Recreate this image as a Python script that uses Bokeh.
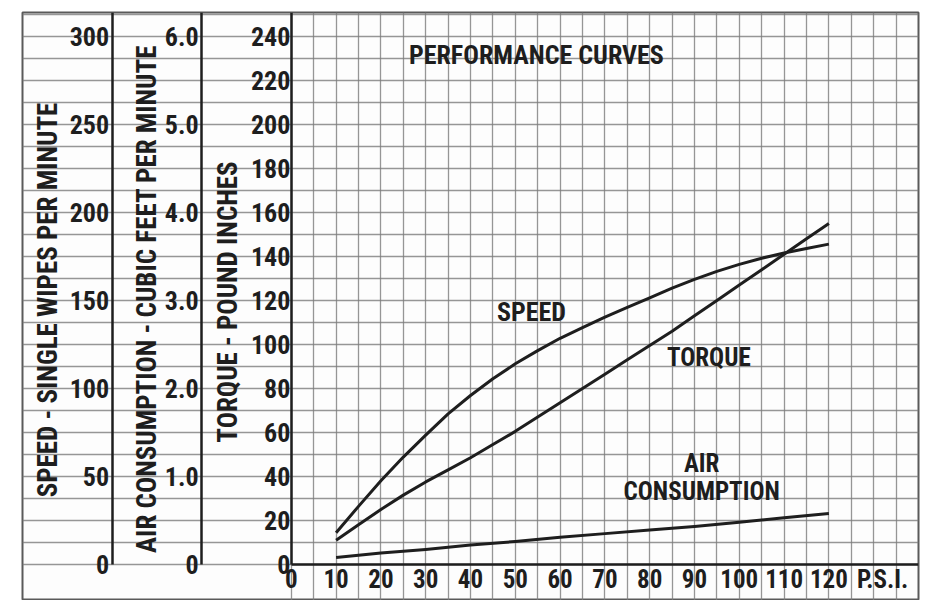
from bokeh.plotting import figure
from bokeh.models import (Range1d, LinearAxis, Grid, SingleIntervalTicker, FixedTicker,
                          NumeralTickFormatter, Label)
from bokeh.embed import file_html
from bokeh.resources import INLINE
import math

# ---------------- data ----------------
psi = [10, 15, 20, 25, 30, 35, 40, 45, 50, 55, 60, 65, 70, 75, 80, 85, 90, 95, 100, 105, 110, 115, 120]
speed = [18, 33, 47.5, 61, 73.5, 85.5, 96, 105.5, 114, 121.5, 128.5, 134.5, 140.5, 146, 151.5,
         157, 162, 166.5, 170.5, 174, 177, 179.5, 182]
torque = [11, 18, 25, 31.5, 37.5, 43, 48.5, 54.5, 60.5, 67, 73.5, 80, 86.5, 93, 99.5,
          106, 113, 120, 127, 134, 141, 148, 155]
psi_air = [10, 20, 30, 40, 50, 60, 70, 80, 90, 100, 110, 120]
air = [0.08, 0.13, 0.17, 0.22, 0.26, 0.31, 0.35, 0.39, 0.43, 0.48, 0.53, 0.58]

speed_ticks = [0, 50, 100, 150, 200, 250, 300]
air_ticks = [0, 1, 2, 3, 4, 5, 6]
torque_ticks = [0, 20, 40, 60, 80, 100, 120, 140, 160, 180, 200, 220, 240]
psi_ticks = [0, 10, 20, 30, 40, 50, 60, 70, 80, 90, 100, 110, 120]

title = "PERFORMANCE CURVES"
speed_title = "SPEED - SINGLE WIPES PER MINUTE"
air_title = "AIR CONSUMPTION - CUBIC FEET PER MINUTE"
torque_title = "TORQUE - POUND INCHES"
psi_unit = "P.S.I."

# ---------------- figure ----------------
FONT = "'Roboto Condensed', 'Liberation Sans Narrow', 'Arial Narrow', 'DejaVu Sans Condensed', sans-serif"
INK = "#1e1e1e"

y0, y1 = -16.4, 250.9
p = figure(width=931, height=600, x_range=Range1d(-60, 140), y_range=Range1d(y0, y1),
           x_axis_type=None, y_axis_type=None, output_backend="svg", toolbar_location=None,
           min_border_left=22, min_border_right=13, min_border_top=12, min_border_bottom=0)
p.extra_y_ranges = {"speed": Range1d(y0 * 1.25, y1 * 1.25), "air": Range1d(y0 / 40, y1 / 40)}
p.background_fill_color = "#fdfdfd"
p.border_fill_color = "white"
p.outline_line_color = "#5a5a5a"
p.outline_line_width = 2

p.add_layout(Grid(dimension=0, ticker=SingleIntervalTicker(interval=5),
                  grid_line_color="#7c7c7c", grid_line_width=1.3, grid_line_alpha=0.8))
p.add_layout(Grid(dimension=1, ticker=SingleIntervalTicker(interval=10),
                  grid_line_color="#7c7c7c", grid_line_width=1.3, grid_line_alpha=0.8))


def style(ax, label_standoff, size="26px"):
    ax.axis_line_color = INK
    ax.axis_line_width = 2.5
    ax.major_tick_in = 0
    ax.major_tick_out = 0
    ax.minor_tick_in = 0
    ax.minor_tick_out = 0
    ax.major_label_text_font = FONT
    ax.major_label_text_font_size = size
    ax.major_label_text_font_style = "bold"
    ax.major_label_text_color = INK
    ax.major_label_standoff = label_standoff


speed_ax = LinearAxis(y_range_name="speed", fixed_location=-40, bounds=(0, 1000),
                      ticker=FixedTicker(ticks=speed_ticks))
style(speed_ax, 3)
p.add_layout(speed_ax, "left")

air_ax = LinearAxis(y_range_name="air", fixed_location=-20, bounds=(0, 100),
                    ticker=FixedTicker(ticks=air_ticks),
                    formatter=NumeralTickFormatter(format="0.0"),
                    major_label_overrides={0: "0"})
style(air_ax, 3)
p.add_layout(air_ax, "left")

torque_ax = LinearAxis(fixed_location=0, bounds=(0, 1000),
                       ticker=FixedTicker(ticks=torque_ticks))
style(torque_ax, 1)
p.add_layout(torque_ax, "left")

x_ax = LinearAxis(fixed_location=0, bounds=(0, 1000),
                  ticker=FixedTicker(ticks=psi_ticks + [132]),
                  major_label_overrides={132: psi_unit})
style(x_ax, 1, "25px")
p.add_layout(x_ax, "below")

# ---------------- curves ----------------
p.line(psi, speed, y_range_name="speed", line_width=3, line_color=INK, line_join="round")
p.line(psi, torque, line_width=3, line_color=INK, line_join="round")
p.line(psi_air, air, y_range_name="air", line_width=3, line_color=INK, line_join="round")


# ---------------- texts ----------------
def lab(x, y, text, size="26px", angle=0.0):
    p.add_layout(Label(x=x, y=y, text=text, text_align="center", text_baseline="middle",
                       angle=angle, text_font=FONT, text_font_size=size,
                       text_font_style="bold", text_color=INK))


lab(-54.4, 120.2, speed_title, "27px", math.pi / 2)
lab(-32.1, 120.7, air_title, "27px", math.pi / 2)
lab(-14.2, 119.3, torque_title, "27px", math.pi / 2)

lab(54.7, 231.4, title, "26px")
lab(53.6, 114.8, "SPEED", "26px")
lab(93.2, 93.9, "TORQUE", "25px")
lab(91.6, 45.8, "AIR", "25px")
lab(91.6, 33.1, "CONSUMPTION", "25px")

open("out.html", "w").write(file_html(p, INLINE))
